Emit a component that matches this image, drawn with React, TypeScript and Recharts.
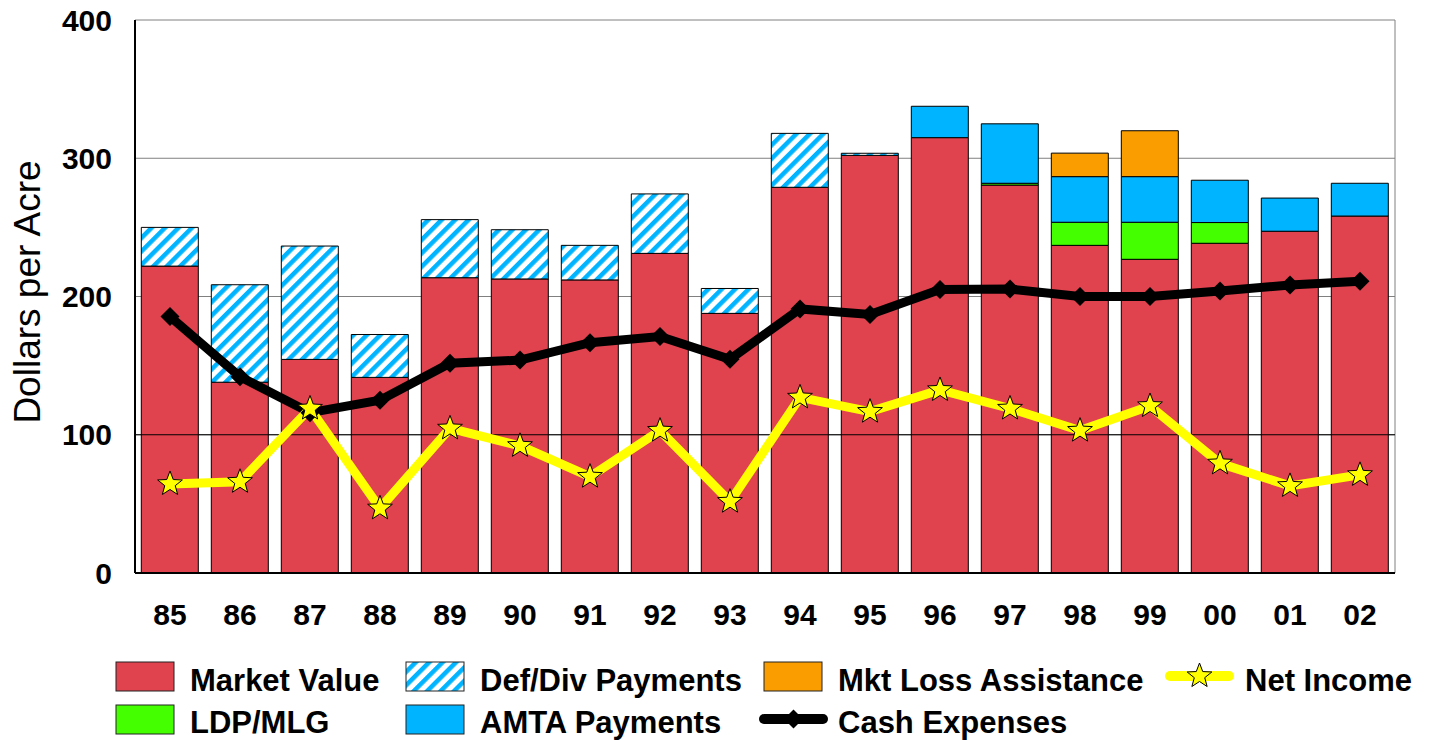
import React from 'react'
import { ComposedChart, Bar, Line, XAxis, YAxis, CartesianGrid, ReferenceLine } from 'recharts'

// crop years
const years = ['85', '86', '87', '88', '89', '90', '91', '92', '93', '94', '95', '96', '97', '98', '99', '00', '01', '02']

// dollars per acre
const marketValue = [222, 138, 154.5, 141.5, 213.6, 212.7, 212, 231.2, 187.8, 279, 302.1, 314.9, 280.6, 237, 226.9, 238.5, 247.2, 258.2]
const defDivPayments = [28, 70.5, 82, 31, 42, 35.6, 25, 43, 18, 39, 1.5, 0, 0, 0, 0, 0, 0, 0]
const ldpMlg = [0, 0, 0, 0, 0, 0, 0, 0, 0, 0, 0, 0, 1.3, 16.7, 26.8, 15, 0, 0]
const amtaPayments = [0, 0, 0, 0, 0, 0, 0, 0, 0, 0, 0, 22.7, 43, 33, 33, 30.6, 24, 23.7]
const mktLossAssistance = [0, 0, 0, 0, 0, 0, 0, 0, 0, 0, 0, 0, 0, 17, 33.2, 0, 0, 0]
const cashExpenses = [185.5, 142, 116, 125, 151.7, 154, 166.6, 171, 154.6, 191, 187, 205, 205.4, 200, 200, 204, 208.3, 211]
const netIncome = [64.4, 66, 119, 46.8, 104.6, 92, 69.7, 103, 51.6, 127, 116.7, 132.4, 119, 103, 120.8, 79.3, 63, 71]

const yTicks = [0, 100, 200, 300, 400]

const data = years.map((year, i) => ({
  year,
  market: marketValue[i],
  defdiv: defDivPayments[i],
  ldp: ldpMlg[i],
  amta: amtaPayments[i],
  mla: mktLossAssistance[i],
  cash: cashExpenses[i],
  net: netIncome[i],
}))

const FONT = '"Liberation Sans", Arial, Helvetica, sans-serif'
const RED = '#E0424E'
const CYAN = '#00B4FF'
const GREEN = '#44FF00'
const ORANGE = '#F99D00'
const YELLOW = '#FFFF00'

function starPath(cx: number, cy: number, outer = 13, inner = 5.5) {
  let d = ''
  for (let i = 0; i < 10; i++) {
    const r = i % 2 === 0 ? outer : inner
    const a = (-90 + i * 36) * Math.PI / 180
    d += (i === 0 ? 'M' : 'L') + (cx + r * Math.cos(a)).toFixed(2) + ',' + (cy + r * Math.sin(a)).toFixed(2)
  }
  return d + 'Z'
}

function diamondPath(cx: number, cy: number, r = 9.5) {
  return `M${cx},${cy - r}L${cx + r},${cy}L${cx},${cy + r}L${cx - r},${cy}Z`
}

const StarDot = (props: any) => {
  const { cx, cy, index } = props
  if (cx == null || cy == null) return <g key={`s-${index}`} />
  return <path key={`s-${index}`} d={starPath(cx, cy)} fill={YELLOW} stroke="#000" strokeWidth={1} />
}

const DiamondDot = (props: any) => {
  const { cx, cy, index } = props
  if (cx == null || cy == null) return <g key={`d-${index}`} />
  return <path key={`d-${index}`} d={diamondPath(cx, cy)} fill="#000" />
}

function Swatch({ x, y, fill }: { x: number; y: number; fill: string }) {
  return <rect x={x} y={y} width={58} height={29} fill={fill} stroke="#222" strokeWidth={1} />
}

function LegendText({ x, y, children }: { x: number; y: number; children: React.ReactNode }) {
  return (
    <text x={x} y={y} fontFamily={FONT} fontWeight="bold" fontSize={31} fill="#000">
      {children}
    </text>
  )
}

export default function App() {
  return (
    <div style={{ position: 'absolute', left: 0, top: 0, width: 1429, height: 740, background: '#fff' }}>
      <ComposedChart
        width={1429}
        height={740}
        data={data}
        margin={{ top: 20, right: 34, bottom: 117, left: 0 }}
        barCategoryGap="9%"
      >
        <defs>
          <pattern id="hatch" width="9.5" height="9.5" patternUnits="userSpaceOnUse" patternTransform="rotate(45)">
            <rect width="9.5" height="9.5" fill="#fff" />
            <rect width="4.5" height="9.5" fill={CYAN} />
          </pattern>
        </defs>
        <CartesianGrid
          stroke="#808080"
          strokeWidth={1}
          verticalCoordinatesGenerator={({ offset }: any) => [offset.left + offset.width]}
        />
        <XAxis
          dataKey="year"
          height={50}
          tickLine={false}
          tickSize={0}
          tickMargin={31}
          axisLine={{ stroke: '#000', strokeWidth: 2 }}
          tick={{ fill: '#000', fontSize: 30, fontWeight: 'bold', fontFamily: FONT }}
          interval={0}
        />
        <YAxis
          width={135}
          domain={[0, 400]}
          ticks={yTicks}
          tickLine={false}
          tickSize={0}
          tickMargin={23}
          axisLine={{ stroke: '#000', strokeWidth: 2 }}
          tick={{ fill: '#000', fontSize: 30, fontWeight: 'bold', fontFamily: FONT }}
        />
        <ReferenceLine y={100} stroke="#000" strokeWidth={1} />
        <Bar dataKey="market" stackId="a" fill={RED} stroke="#000" strokeWidth={1} isAnimationActive={false} />
        <Bar dataKey="defdiv" stackId="a" fill="url(#hatch)" stroke="#000" strokeWidth={1} isAnimationActive={false} />
        <Bar dataKey="ldp" stackId="a" fill={GREEN} stroke="#000" strokeWidth={1} isAnimationActive={false} />
        <Bar dataKey="amta" stackId="a" fill={CYAN} stroke="#000" strokeWidth={1} isAnimationActive={false} />
        <Bar dataKey="mla" stackId="a" fill={ORANGE} stroke="#000" strokeWidth={1} isAnimationActive={false} />
        <Line
          type="linear"
          dataKey="cash"
          stroke="#000"
          strokeWidth={9}
          dot={DiamondDot}
          activeDot={false}
          isAnimationActive={false}
        />
        <Line
          type="linear"
          dataKey="net"
          stroke={YELLOW}
          strokeWidth={9}
          dot={StarDot}
          activeDot={false}
          isAnimationActive={false}
        />
      </ComposedChart>

      <svg
        width={1429}
        height={740}
        style={{ position: 'absolute', left: 0, top: 0, pointerEvents: 'none' }}
      >
        <defs>
          <pattern id="hatchLegend" width="9.5" height="9.5" patternUnits="userSpaceOnUse" patternTransform="rotate(45)">
            <rect width="9.5" height="9.5" fill="#fff" />
            <rect width="4.5" height="9.5" fill={CYAN} />
          </pattern>
        </defs>
        {/* Y axis title */}
        <text
          transform="translate(40, 292) rotate(-90)"
          textAnchor="middle"
          fontFamily={FONT}
          fontSize={37}
          fill="#000"
        >
          Dollars per Acre
        </text>

        {/* Legend row 1 */}
        <Swatch x={116} y={662} fill={RED} />
        <LegendText x={190} y={691}>Market Value</LegendText>
        <Swatch x={406} y={662} fill="url(#hatchLegend)" />
        <LegendText x={480} y={691}>Def/Div Payments</LegendText>
        <Swatch x={764} y={662} fill={ORANGE} />
        <LegendText x={838} y={691}>Mkt Loss Assistance</LegendText>
        <line x1={1170} y1={676} x2={1229} y2={676} stroke={YELLOW} strokeWidth={10} strokeLinecap="round" />
        <path d={starPath(1199.5, 676)} fill={YELLOW} stroke="#000" strokeWidth={1} />
        <LegendText x={1245} y={691}>Net Income</LegendText>

        {/* Legend row 2 */}
        <Swatch x={116} y={705} fill={GREEN} />
        <LegendText x={190} y={733}>LDP/MLG</LegendText>
        <Swatch x={406} y={705} fill={CYAN} />
        <LegendText x={480} y={733}>AMTA Payments</LegendText>
        <line x1={764} y1={719} x2={823} y2={719} stroke="#000" strokeWidth={10} strokeLinecap="round" />
        <path d={diamondPath(793.5, 719)} fill="#000" />
        <LegendText x={838} y={733}>Cash Expenses</LegendText>
      </svg>
    </div>
  )
}
